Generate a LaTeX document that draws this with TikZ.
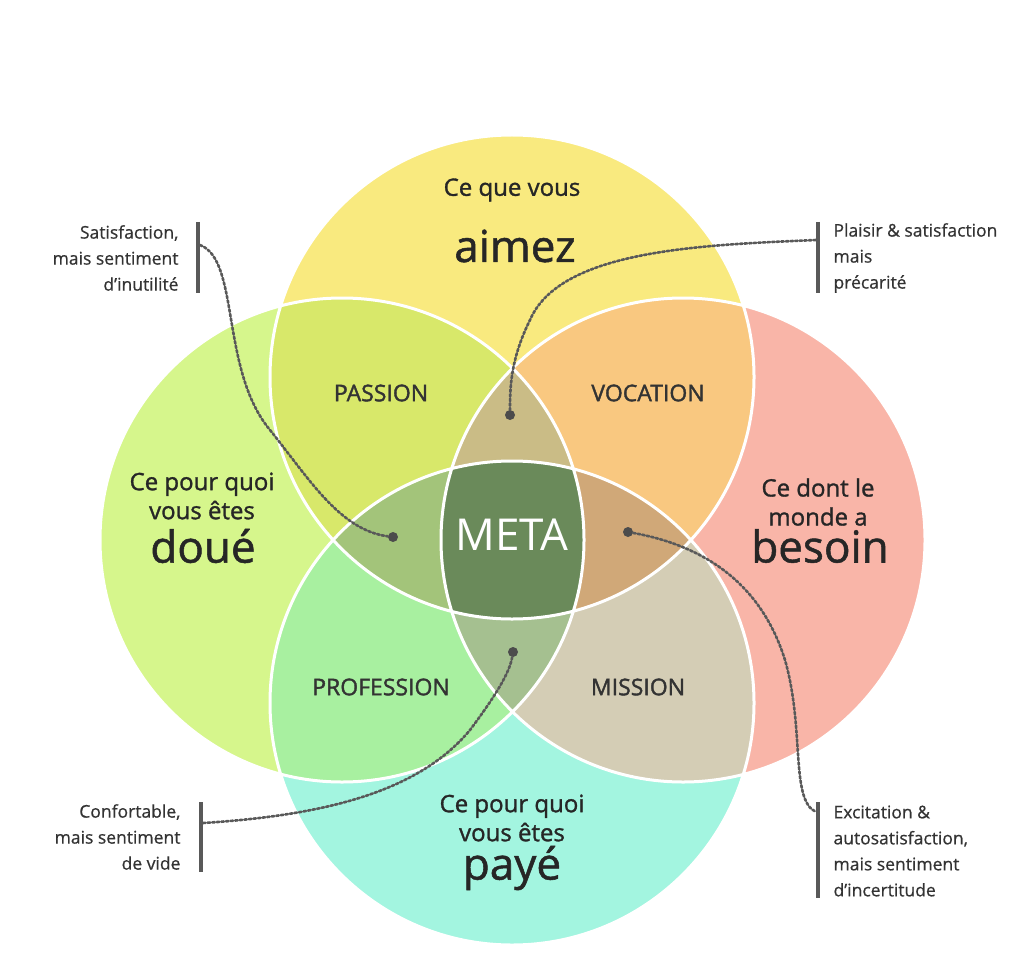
\documentclass[tikz,border=0pt]{standalone}
\usepackage{fontspec}
\setmainfont{Open Sans}
\begin{document}
\begin{tikzpicture}[x=1pt,y=-1pt,
 lbl/.style={font=\fontsize{23}{23}\selectfont\addfontfeature{FakeBold=1.6},text=black!80},
 small/.style={font=\fontsize{24}{29}\selectfont\addfontfeature{FakeBold=1.2},text=black!85,align=center},
 big/.style={font=\fontsize{44}{44}\selectfont\addfontfeature{FakeBold=1.2},text=black!85},
 ann/.style={font=\fontsize{17.5}{26}\selectfont\addfontfeature{FakeBold=0.6},text=black!80},
 bar/.style={line width=4pt,draw=black!65},
 dots/.style={draw=black!65,line width=2.6pt,dotted,line cap=round},
 dotc/.style={circle,fill=black!70,inner sep=0pt,minimum size=10pt}]
\useasboundingbox (0,0) rectangle (1024,968);
\fill[white] (0,0) rectangle (1024,968);
\def\T{(512,377) circle[radius=242]}
\def\L{(342,540) circle[radius=242]}
\def\R{(683,540) circle[radius=242]}
\def\B{(512,703) circle[radius=242]}
\fill[color={rgb,255:red,249;green,234;blue,127}] \T;
\fill[color={rgb,255:red,214;green,246;blue,140}] \L;
\fill[color={rgb,255:red,249;green,181;blue,168}] \R;
\fill[color={rgb,255:red,163;green,245;blue,224}] \B;
\begin{scope}\clip\T;\fill[color={rgb,255:red,216;green,232;blue,106}]\L;\fill[color={rgb,255:red,249;green,200;blue,128}]\R;\end{scope}
\begin{scope}\clip\B;\fill[color={rgb,255:red,168;green,240;blue,160}]\L;\fill[color={rgb,255:red,212;green,205;blue,181}]\R;\end{scope}
\begin{scope}\clip\T;\clip\L;\fill[color={rgb,255:red,202;green,188;blue,134}]\R;\end{scope}
\begin{scope}\clip\T;\clip\L;\fill[color={rgb,255:red,163;green,196;blue,122}]\B;\end{scope}
\begin{scope}\clip\T;\clip\R;\fill[color={rgb,255:red,208;green,168;blue,120}]\B;\end{scope}
\begin{scope}\clip\L;\clip\R;\fill[color={rgb,255:red,165;green,192;blue,144}]\B;\end{scope}
\begin{scope}\clip\T;\clip\L;\clip\R;\fill[color={rgb,255:red,106;green,138;blue,90}]\B;\end{scope}
\draw[white,line width=3pt] \T \L \R \B;
% titles
\node[small] (t1) at (512,190) {Ce que vous};
\node[big] (t2) at (515,246) {aimez};
\node[small] (l1) at (202,496) {Ce pour quoi\\vous êtes};
\node[big] (l2) at (203,546) {doué};
\node[small] (r1) at (818,502) {Ce dont le\\monde a};
\node[big] (r2) at (820,546) {besoin};
\node[small] (b1) at (512,818) {Ce pour quoi\\vous êtes};
\node[big] (b2) at (512,868) {payé};
\node[lbl] (p) at (381,393) {PASSION};
\node[lbl] (v) at (648,393) {VOCATION};
\node[lbl] (pr) at (381,687) {PROFESSION};
\node[lbl] (m) at (638,687) {MISSION};
\node[font=\fontsize{44}{44}\selectfont,text=white] (meta) at (512,535) {META};
% annotations
\node[ann,align=right,anchor=east] (a1) at (182,258) {Satisfaction,\\mais sentiment\\d’inutilité};
\node[ann,align=left,anchor=west] (a2) at (830,258) {Plaisir \& satisfaction\\mais\\précarité};
\node[ann,align=right,anchor=east] (a3) at (184,837) {Confortable,\\mais sentiment\\de vide};
\node[ann,align=left,anchor=west] (a4) at (830,851) {Excitation \&\\autosatisfaction,\\mais sentiment\\d’incertitude};
\coordinate (k1t) at (198,222); \coordinate (k1b) at (198,293);
\coordinate (k2t) at (818,222); \coordinate (k2b) at (818,293);
\coordinate (k3t) at (201,802); \coordinate (k3b) at (201,872);
\coordinate (k4t) at (818,802); \coordinate (k4b) at (818,898);
\draw[bar] (k1t)--(k1b); \draw[bar] (k2t)--(k2b); \draw[bar] (k3t)--(k3b); \draw[bar] (k4t)--(k4b);
\node[dotc] (d1) at (393,537) {};
\node[dotc] (d2) at (510,415) {};
\node[dotc] (d3) at (513,652) {};
\node[dotc] (d4) at (628,532) {};
\coordinate (e1) at (200,245); \coordinate (e2) at (816,240);
\coordinate (e3) at (203,823); \coordinate (e4) at (816,812);
\draw[dots] (e1) .. controls (240,260) and (220,370) .. (270,430) .. controls (310,480) and (340,530) .. (d1);
\draw[dots] (e2) .. controls (700,245) and (560,250) .. (530,320) .. controls (510,360) and (510,390) .. (d2);
\draw[dots] (e3) .. controls (330,815) and (420,790) .. (470,730) .. controls (500,690) and (510,670) .. (d3);
\draw[dots] (d4) .. controls (700,545) and (760,580) .. (785,660) .. controls (805,730) and (790,800) .. (e4);
\end{tikzpicture}
\end{document}
